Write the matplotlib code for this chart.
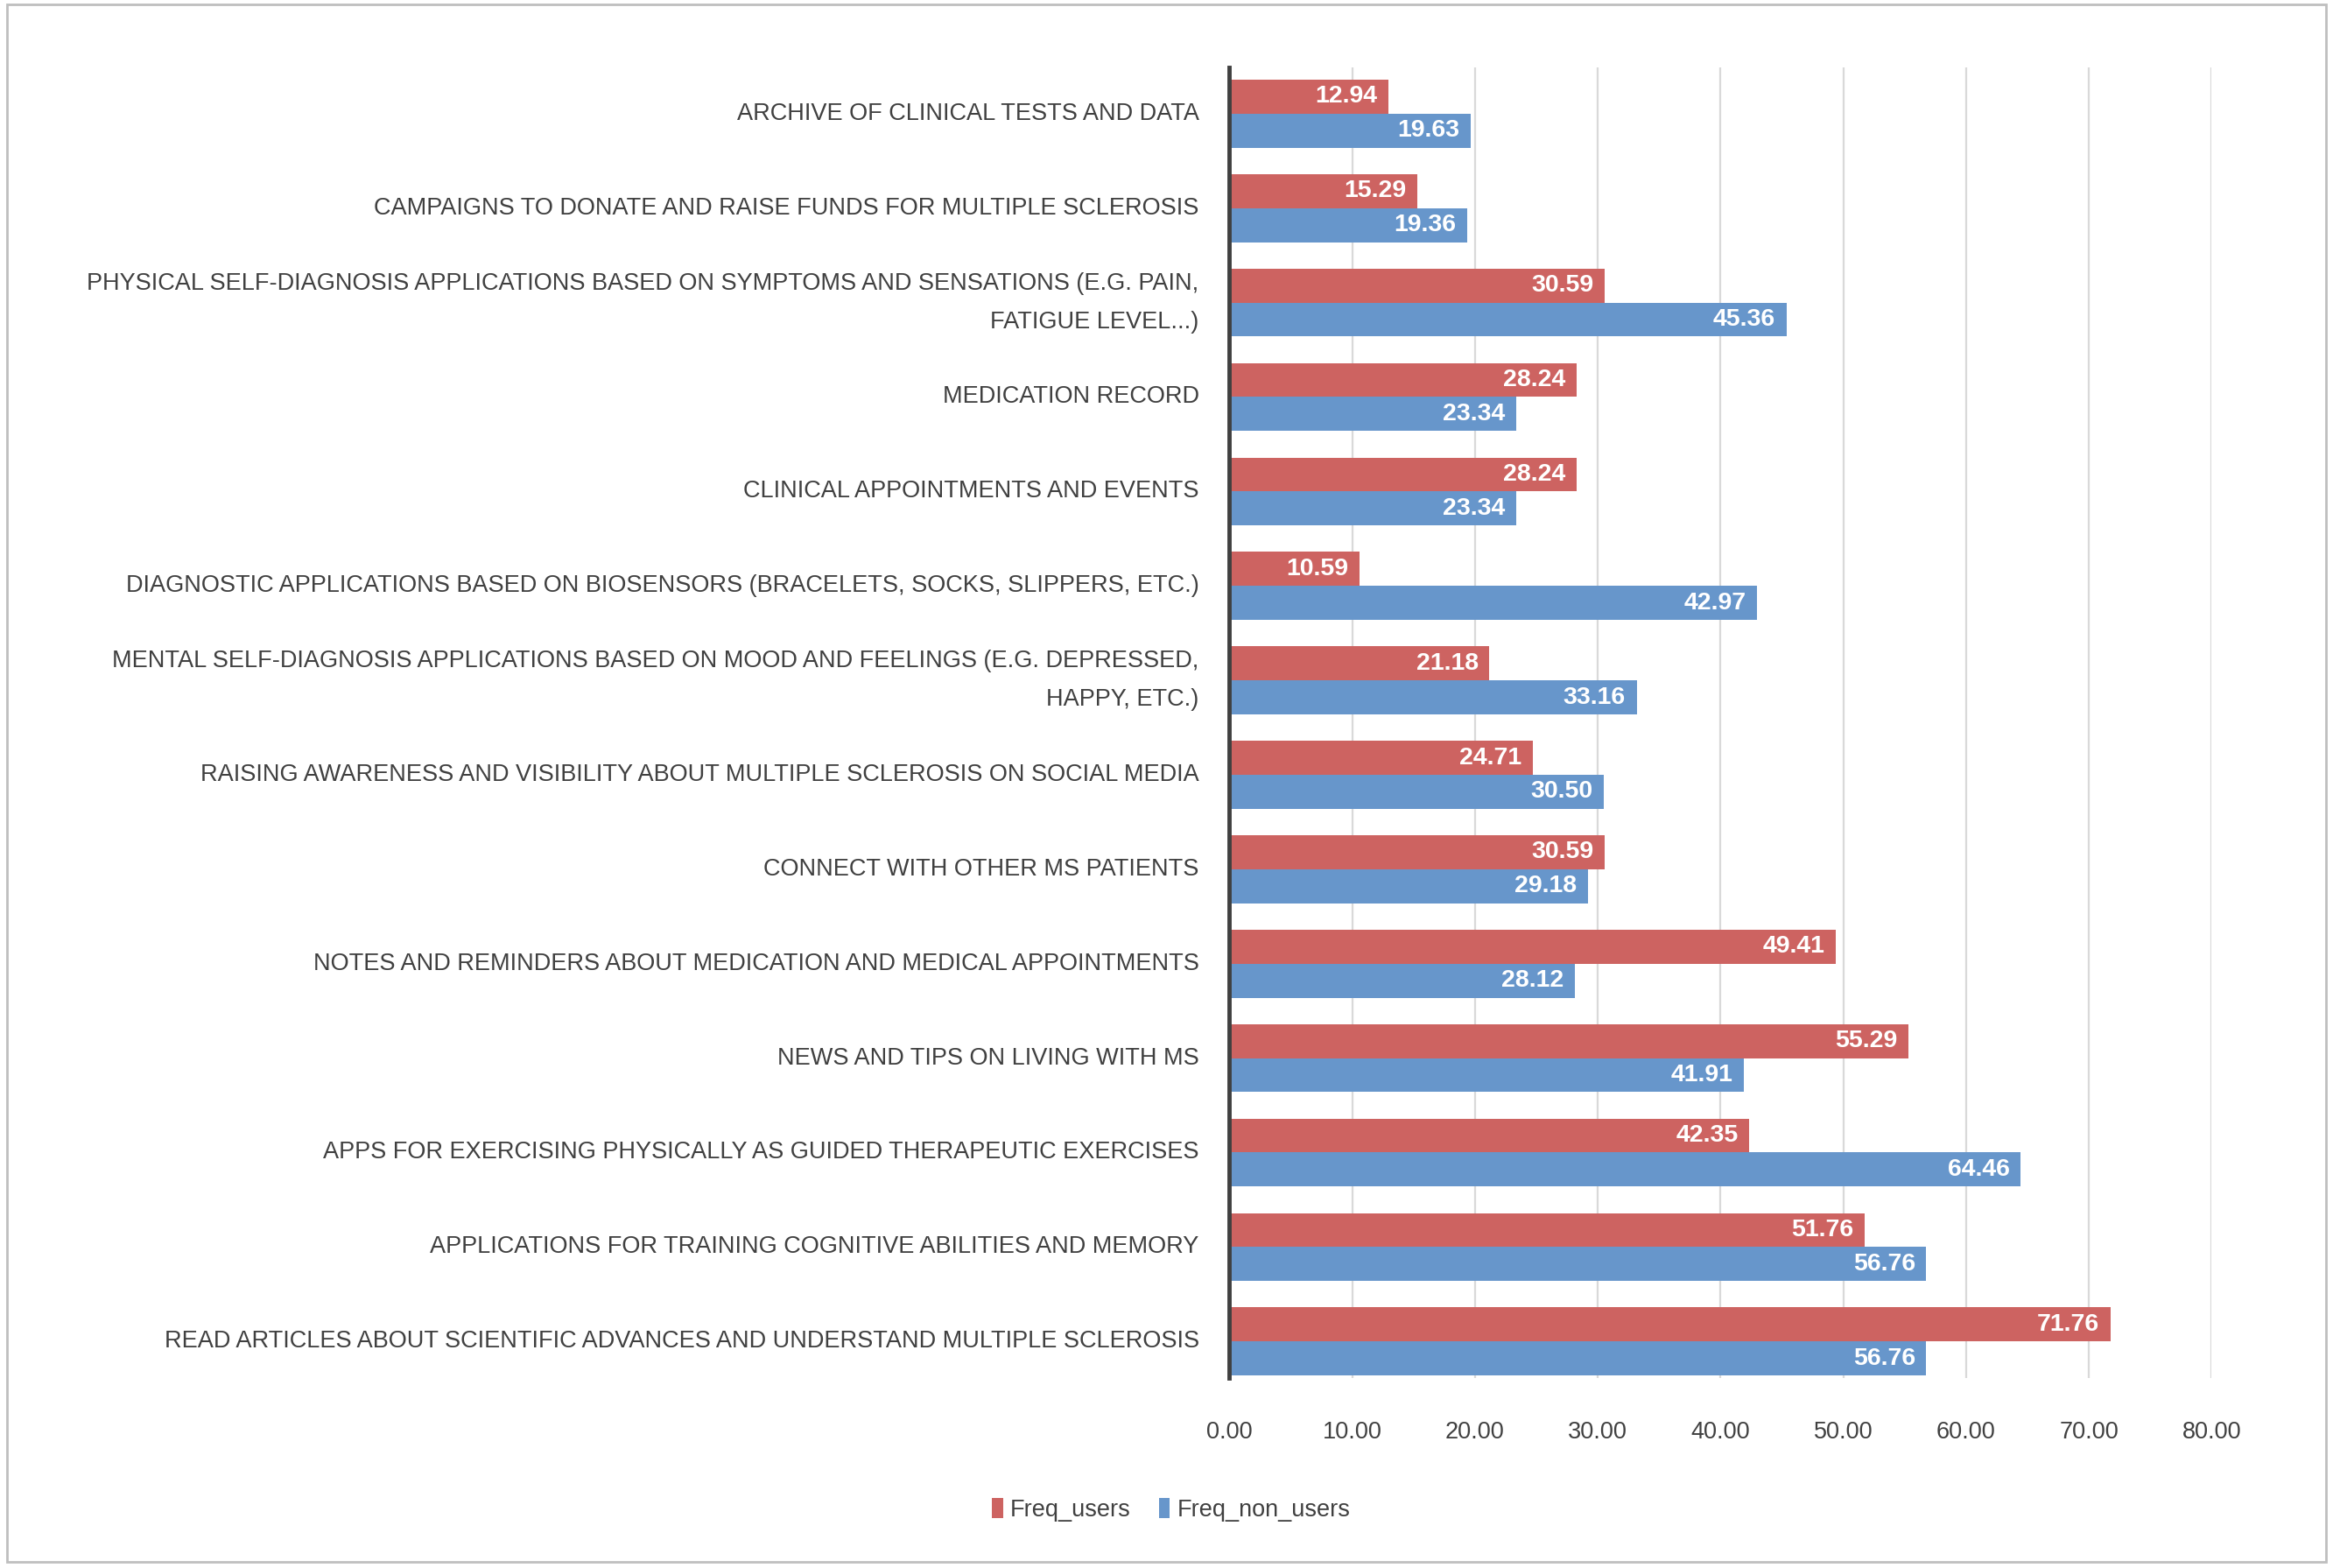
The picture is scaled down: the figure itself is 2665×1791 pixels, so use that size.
import matplotlib

matplotlib.use("Agg")
import matplotlib.pyplot as plt
import numpy as np
from matplotlib.patches import Rectangle

categories = [
    "ARCHIVE OF CLINICAL TESTS AND DATA",
    "CAMPAIGNS TO DONATE AND RAISE FUNDS FOR MULTIPLE SCLEROSIS",
    "PHYSICAL SELF-DIAGNOSIS APPLICATIONS BASED ON SYMPTOMS AND SENSATIONS (E.G. PAIN,\nFATIGUE LEVEL...)",
    "MEDICATION RECORD",
    "CLINICAL APPOINTMENTS AND EVENTS",
    "DIAGNOSTIC APPLICATIONS BASED ON BIOSENSORS (BRACELETS, SOCKS, SLIPPERS, ETC.)",
    "MENTAL SELF-DIAGNOSIS APPLICATIONS BASED ON MOOD AND FEELINGS (E.G. DEPRESSED,\nHAPPY, ETC.)",
    "RAISING AWARENESS AND VISIBILITY ABOUT MULTIPLE SCLEROSIS ON SOCIAL MEDIA",
    "CONNECT WITH OTHER MS PATIENTS",
    "NOTES AND REMINDERS ABOUT MEDICATION AND MEDICAL APPOINTMENTS",
    "NEWS AND TIPS ON LIVING WITH MS",
    "APPS FOR EXERCISING PHYSICALLY AS GUIDED THERAPEUTIC EXERCISES",
    "APPLICATIONS FOR TRAINING COGNITIVE ABILITIES AND MEMORY",
    "READ ARTICLES ABOUT SCIENTIFIC ADVANCES AND UNDERSTAND MULTIPLE SCLEROSIS",
]
freq_users = [12.94, 15.29, 30.59, 28.24, 28.24, 10.59, 21.18, 24.71, 30.59, 49.41, 55.29, 42.35, 51.76, 71.76]
freq_non_users = [19.63, 19.36, 45.36, 23.34, 23.34, 42.97, 33.16, 30.50, 29.18, 28.12, 41.91, 64.46, 56.76, 56.76]
x_ticks = [0, 10, 20, 30, 40, 50, 60, 70, 80]

RED = "#CD6361"
BLUE = "#6796CB"
TEXT = "#404040"
FONT = ["Liberation Sans Narrow", "Liberation Sans", "DejaVu Sans"]

plt.rcParams["font.family"] = FONT

fig = plt.figure(figsize=(26.65, 17.91), dpi=100)
ax = fig.add_axes([0.527, 0.121, 0.421, 0.836])

y = np.arange(len(categories))
h = 0.36
ax.barh(y - h / 2, freq_users, height=h, color=RED, label="Freq_users", zorder=3)
ax.barh(y + h / 2, freq_non_users, height=h, color=BLUE, label="Freq_non_users", zorder=3)

# value labels sit inside the bar end
for yi, v in zip(y, freq_users):
    ax.text(v - 0.9, yi - h / 2, f"{v:.2f}", ha="right", va="center",
            color="white", fontsize=20.5, fontweight="bold", zorder=4)
for yi, v in zip(y, freq_non_users):
    ax.text(v - 0.9, yi + h / 2, f"{v:.2f}", ha="right", va="center",
            color="white", fontsize=20.5, fontweight="bold", zorder=4)

ax.set_xlim(0, 80)
ax.set_ylim(13.39, -0.49)
ax.set_xticks(x_ticks)
ax.set_xticklabels([f"{t:.2f}" for t in x_ticks], fontsize=19.5, color=TEXT)
ax.set_yticks(y)
ax.set_yticklabels(categories, fontsize=19.5, color=TEXT, linespacing=1.9, va="center")
ax.tick_params(axis="y", length=0, pad=25)
ax.tick_params(axis="x", length=0, pad=35)
ax.grid(axis="x", color="#D9D9D9", linewidth=1.6, zorder=0)
for s in ["top", "right", "bottom"]:
    ax.spines[s].set_visible(False)
ax.spines["left"].set_color(TEXT)
ax.spines["left"].set_linewidth(3.5)
ax.spines["left"].set_zorder(5)

leg = fig.legend(loc="center", bbox_to_anchor=(0.502, 0.037), ncol=2, frameon=False,
                 fontsize=19.5, handlelength=0.45, handleheight=0.9, handletextpad=0.3,
                 columnspacing=1.2)
for t in leg.get_texts():
    t.set_color(TEXT)

fig.patches.append(Rectangle((0.003, 0.004), 0.994, 0.993, transform=fig.transFigure,
                             fill=False, edgecolor="#BFBFBF", linewidth=2))

fig.savefig("out.png", dpi=100)
